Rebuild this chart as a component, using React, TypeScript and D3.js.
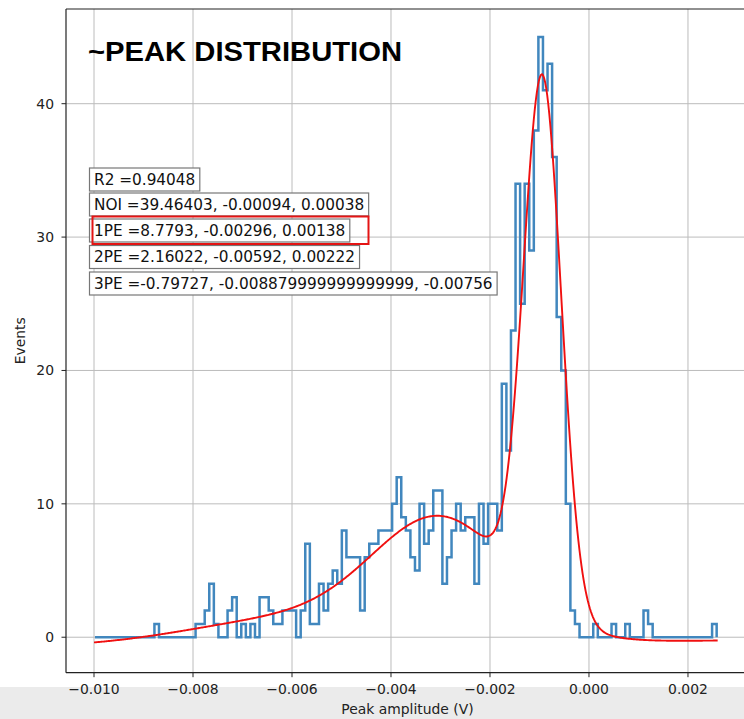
import React, { useEffect, useRef } from "react";
import * as d3 from "d3";

// ---------- data ----------
const binStart = -0.00998;
const binWidth = 0.00009235;
const counts = [
  0, 0, 0, 0, 0, 0, 0, 0, 0, 0, 0, 0, 0, 1, 0, 0, 0, 0, 0, 0,
  0, 0, 1, 1, 2, 4, 1, 0, 0, 2, 3, 0, 1, 0, 1, 0, 3, 3, 2, 1,
  1, 2, 2, 2, 0, 2, 7, 1, 1, 4, 2, 4, 5, 4, 8, 6, 6, 6, 2, 6,
  7, 7, 8, 8, 8, 10, 12, 9, 8, 6, 5, 10, 7, 8, 11, 11, 4, 6, 8, 10,
  8, 9, 9, 4, 10, 7, 10, 10, 8, 19, 14, 23, 34, 25, 34, 29, 38, 45, 41, 43,
  36, 24, 20, 10, 2, 1, 0, 0, 0, 1, 0, 0, 0, 1, 0, 0, 1, 0, 0, 0,
  2, 1, 0, 0, 0, 0, 0, 0, 0, 0, 0, 0, 0, 0, 0, 1,
];
const xTicks = [-0.01, -0.008, -0.006, -0.004, -0.002, 0.0, 0.002];
const yTicks = [0, 10, 20, 30, 40];
const fitNames = ["NOI", "1PE", "2PE", "3PE"];
const fitAmp = [39.46403, 8.7793, 2.16022, -0.79727];
const fitMu = [-0.00094, -0.00296, -0.00592, -0.008879999999999999];
const fitSigma = [0.00038, 0.00138, 0.00222, -0.00756];
const fitSigmaText = ["0.00038", "0.00138", "0.00222", "-0.00756"];
const fitAmpText = ["39.46403", "8.7793", "2.16022", "-0.79727"];
const fitMuText = ["-0.00094", "-0.00296", "-0.00592", "-0.008879999999999999"];
const r2Text = "0.94048";
const curveRange = [-0.01, 0.0026];
const titleText = "~PEAK DISTRIBUTION";
const xLabel = "Peak amplitude (V)";
const yLabel = "Events";

const W = 744;
const H = 719;

export default function App() {
  const ref = useRef<SVGSVGElement | null>(null);

  useEffect(() => {
    const svg = d3.select(ref.current);
    svg.selectAll("*").remove();
    document.body.style.margin = "0";

    const L = 66, T = 9, R = 749, B = 672.7;
    const x = d3.scaleLinear().domain([-0.010566, 0.003233]).range([L, R]);
    const y = d3.scaleLinear().domain([-2.66, 47.1]).range([B, T]);
    const font = "'DejaVu Sans', sans-serif";

    svg.append("rect").attr("width", W).attr("height", H).attr("fill", "#fff");
    svg.append("rect").attr("x", 0).attr("y", 687).attr("width", W).attr("height", H - 687).attr("fill", "#ebebeb");

    const clip = svg.append("defs").append("clipPath").attr("id", "plotclip");
    clip.append("rect").attr("x", L).attr("y", T).attr("width", R - L).attr("height", B - T);

    const g = svg.append("g").attr("clip-path", "url(#plotclip)");
    // grid
    g.selectAll(".vg").data(xTicks).enter().append("line")
      .attr("x1", (d) => x(d)).attr("x2", (d) => x(d)).attr("y1", T).attr("y2", B)
      .attr("stroke", "#bcbcbc").attr("stroke-width", 1);
    g.selectAll(".hg").data(yTicks).enter().append("line")
      .attr("y1", (d) => y(d)).attr("y2", (d) => y(d)).attr("x1", L).attr("x2", R)
      .attr("stroke", "#bcbcbc").attr("stroke-width", 1);

    // histogram step outline
    const pts: [number, number][] = [];
    pts.push([binStart, 0]);
    counts.forEach((c, i) => {
      pts.push([binStart + i * binWidth, c]);
      pts.push([binStart + (i + 1) * binWidth, c]);
    });
    pts.push([binStart + counts.length * binWidth, 0]);
    const line = d3.line<[number, number]>().x((d) => x(d[0])).y((d) => y(d[1]));
    g.append("path").attr("d", line(pts)).attr("fill", "none")
      .attr("stroke", "#4187be").attr("stroke-width", 2.5).attr("stroke-linejoin", "miter");

    // fit curve (sum of gaussians from displayed parameters)
    const xs = d3.range(0, 601).map((i) => curveRange[0] + (curveRange[1] - curveRange[0]) * i / 600);
    const model = (v: number) => fitAmp.reduce((s, a, k) =>
      s + a * Math.exp(-((v - fitMu[k]) ** 2) / (2 * fitSigma[k] ** 2)), 0);
    const curve: [number, number][] = xs.map((v) => [v, model(v)]);
    g.append("path").attr("d", d3.line<[number, number]>().curve(d3.curveLinear)
      .x((d) => x(d[0])).y((d) => y(d[1]))(curve))
      .attr("fill", "none").attr("stroke", "#f01010").attr("stroke-width", 1.9);

    // spines
    const sp = svg.append("g").attr("stroke", "#222").attr("stroke-width", 1.2);
    sp.append("line").attr("x1", L).attr("x2", L).attr("y1", T).attr("y2", B);
    sp.append("line").attr("x1", L).attr("x2", R).attr("y1", T).attr("y2", T);
    sp.append("line").attr("x1", L).attr("x2", R).attr("y1", B).attr("y2", B);

    // ticks
    const fmt = d3.format(".3f");
    xTicks.forEach((t) => {
      svg.append("line").attr("x1", x(t)).attr("x2", x(t)).attr("y1", B).attr("y2", B + 4.5)
        .attr("stroke", "#222").attr("stroke-width", 1);
      svg.append("text").attr("x", x(t)).attr("y", 693.5).attr("text-anchor", "middle")
        .attr("font-family", font).attr("font-size", 13.9).attr("fill", "#222").text(fmt(t));
    });
    yTicks.forEach((t) => {
      svg.append("line").attr("x1", L - 4.5).attr("x2", L).attr("y1", y(t)).attr("y2", y(t))
        .attr("stroke", "#222").attr("stroke-width", 1);
      svg.append("text").attr("x", 54).attr("y", y(t) + 5).attr("text-anchor", "end")
        .attr("font-family", font).attr("font-size", 13.9).attr("fill", "#222").text(String(t));
    });
    svg.append("text").attr("x", (L + R) / 2).attr("y", 714).attr("text-anchor", "middle")
      .attr("font-family", font).attr("font-size", 13.9).attr("fill", "#222").text(xLabel);
    svg.append("text").attr("transform", `translate(25,${(T + B) / 2}) rotate(-90)`)
      .attr("text-anchor", "middle").attr("font-family", font).attr("font-size", 13.9)
      .attr("fill", "#222").text(yLabel);

    // text boxes
    const lines = [
      `R2 =${r2Text}`,
      ...fitNames.map((n, k) => `${n} =${fitAmpText[k]}, ${fitMuText[k]}, ${fitSigmaText[k]}`),
    ];
    const tops = [168, 193, 219, 245.5, 272];
    lines.forEach((s, i) => {
      const bg = svg.append("g");
      const rect = bg.append("rect");
      const txt = bg.append("text").attr("x", 94).attr("y", tops[i] + 16.5)
        .attr("font-family", font).attr("font-size", 15.3).attr("fill", "#111").text(s);
      const w = (txt.node() as SVGTextElement).getComputedTextLength();
      rect.attr("x", 89.5).attr("y", tops[i]).attr("width", w + 9).attr("height", 23)
        .attr("fill", "#fff").attr("stroke", "#777").attr("stroke-width", 1.2);
    });
    // red highlight rectangle
    svg.append("rect").attr("x", 92.5).attr("y", 216.5).attr("width", 276).attr("height", 27.5)
      .attr("fill", "none").attr("stroke", "#e41414").attr("stroke-width", 2);

    // title
    svg.append("text").attr("x", 88).attr("y", 61).attr("font-family", "'Liberation Sans', Arial, sans-serif")
      .attr("font-weight", "bold").attr("font-size", 27).attr("fill", "#000")
      .attr("textLength", 314).attr("lengthAdjust", "spacingAndGlyphs").text(titleText);
  }, []);

  return (
    <svg ref={ref} width={W} height={H} style={{ position: "absolute", left: 0, top: 0 }} />
  );
}
